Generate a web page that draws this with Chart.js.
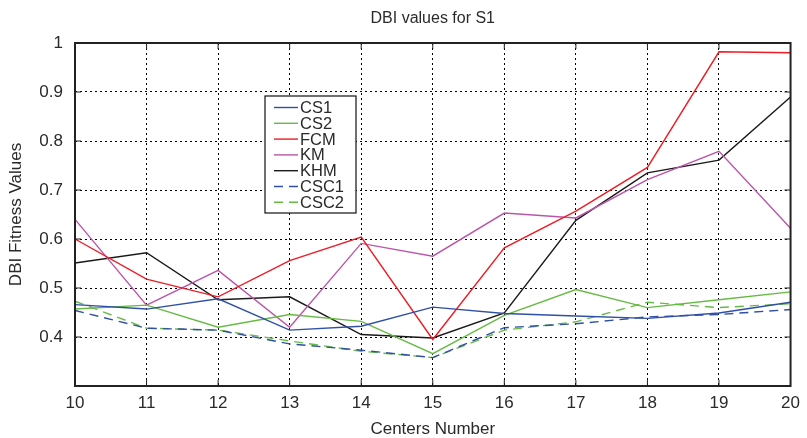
<!DOCTYPE html>
<html><head><meta charset="utf-8">
<script src="https://cdn.jsdelivr.net/npm/chart.js@4/dist/chart.umd.min.js"></script>
<style>html,body{margin:0;padding:0;background:#fff;}#wrap{width:807px;height:438px;position:relative;}</style>
</head><body><div id="wrap"><canvas id="c" width="807" height="438"></canvas></div>
<script>
const categories = ['10','11','12','13','14','15','16','17','18','19','20'];
const cs1  = [0.466,0.457,0.478,0.414,0.422,0.461,0.448,0.443,0.438,0.449,0.471];
const cs2  = [0.457,0.465,0.420,0.446,0.432,0.366,0.444,0.497,0.460,0.476,0.492];
const fcm  = [0.600,0.518,0.482,0.556,0.604,0.395,0.582,0.657,0.746,0.982,0.980];
const km   = [0.640,0.465,0.536,0.420,0.591,0.565,0.653,0.643,0.721,0.779,0.622];
const khm  = [0.551,0.572,0.476,0.482,0.405,0.398,0.449,0.638,0.735,0.761,0.890];
const csc1 = [0.454,0.418,0.414,0.386,0.373,0.358,0.419,0.427,0.441,0.446,0.456];
const csc2 = [0.473,0.418,0.414,0.392,0.371,0.358,0.414,0.431,0.471,0.460,0.468];
const yTicks = [0.3,0.4,0.5,0.6,0.7,0.8,0.9,1.0];

const BLUE='#3050a8', GREEN='#66bb44', RED='#ee1c24', MAG='#bb55aa', BLK='#1a1a1a';
const TXT='#2a2a2a';
function ds(label,data,color,dash){return {label,data,borderColor:color,backgroundColor:color,borderWidth:1.4,pointRadius:0,tension:0,borderDash:dash||[],fill:false};}

const FONT = '"Liberation Sans", Arial, sans-serif';

const framePlugin = {
  id:'frame',
  afterDraw(chart){
    const {ctx, chartArea:a} = chart;
    ctx.save();
    ctx.strokeStyle='#222'; ctx.lineWidth=2; ctx.setLineDash([]);
    ctx.strokeRect(a.left,a.top,a.right-a.left,a.bottom-a.top);
    ctx.lineWidth=1;
    const xs=chart.scales.x, ys=chart.scales.y;
    for(let i=0;i<categories.length;i++){
      const px=xs.getPixelForValue(i);
      ctx.beginPath();ctx.moveTo(px,a.bottom);ctx.lineTo(px,a.bottom-6);ctx.moveTo(px,a.top);ctx.lineTo(px,a.top+6);ctx.stroke();
    }
    yTicks.forEach(v=>{
      const py=ys.getPixelForValue(v);
      ctx.beginPath();ctx.moveTo(a.left,py);ctx.lineTo(a.left+6,py);ctx.moveTo(a.right,py);ctx.lineTo(a.right-6,py);ctx.stroke();
    });
    const cx=(a.left+a.right)/2;
    ctx.fillStyle=TXT; ctx.textAlign='center'; ctx.textBaseline='middle';
    ctx.font='16px '+FONT;
    ctx.fillText('DBI values for S1',cx,19);
    ctx.font='17px '+FONT;
    ctx.fillText('Centers Number',cx,429);
    ctx.save();
    ctx.translate(16,(a.top+a.bottom)/2);
    ctx.rotate(-Math.PI/2);
    ctx.fillText('DBI Fitness Values',0,0);
    ctx.restore();
    // legend
    const lx=265, ly=96, lw=91, lh=117;
    ctx.fillStyle='#fff'; ctx.fillRect(lx,ly,lw,lh);
    ctx.strokeStyle='#111'; ctx.lineWidth=1.2; ctx.strokeRect(lx,ly,lw,lh);
    ctx.font='16.5px '+FONT; ctx.textAlign='left';
    chart.data.datasets.forEach((d,i)=>{
      const y=ly+11.5+i*15.8;
      ctx.strokeStyle=d.borderColor; ctx.lineWidth=1.4; ctx.setLineDash(d.borderDash);
      ctx.beginPath();ctx.moveTo(lx+9,y);ctx.lineTo(lx+33,y);ctx.stroke();
      ctx.setLineDash([]);
      ctx.fillStyle=TXT; ctx.fillText(d.label,lx+35,y+1);
    });
    ctx.restore();
  }
};

new Chart(document.getElementById('c'),{
  type:'line',
  data:{labels:categories,datasets:[
    ds('CS1',cs1,BLUE), ds('CS2',cs2,GREEN), ds('FCM',fcm,RED), ds('KM',km,MAG), ds('KHM',khm,BLK),
    ds('CSC1',csc1,BLUE,[9,6]), ds('CSC2',csc2,GREEN,[9,6])
  ]},
  options:{
    responsive:false, animation:false,
    layout:{padding:{top:43,right:10,left:0,bottom:0},autoPadding:false},
    plugins:{legend:{display:false},title:{display:false},tooltip:{enabled:false}},
    scales:{
      x:{type:'category',offset:false,
        grid:{color:'#000',lineWidth:1,drawTicks:false},
        border:{display:false,dash:[2,3]},
        ticks:{color:TXT,font:{family:FONT,size:17},padding:7,maxRotation:0,autoSkip:false},
        afterFit(s){s.height=52;}
      },
      y:{min:0.3,max:1.0,
        afterBuildTicks(s){s.ticks=yTicks.map(v=>({value:v}));},
        grid:{color:'#000',lineWidth:1,drawTicks:false},
        border:{display:false,dash:[2,3]},
        ticks:{color:TXT,font:{family:FONT,size:17},padding:12,
          callback:v=> v<0.35?'':String(Math.round(v*10)/10)},
        afterFit(s){s.width=75;}
      }
    }
  },
  plugins:[framePlugin]
});
</script></body></html>
